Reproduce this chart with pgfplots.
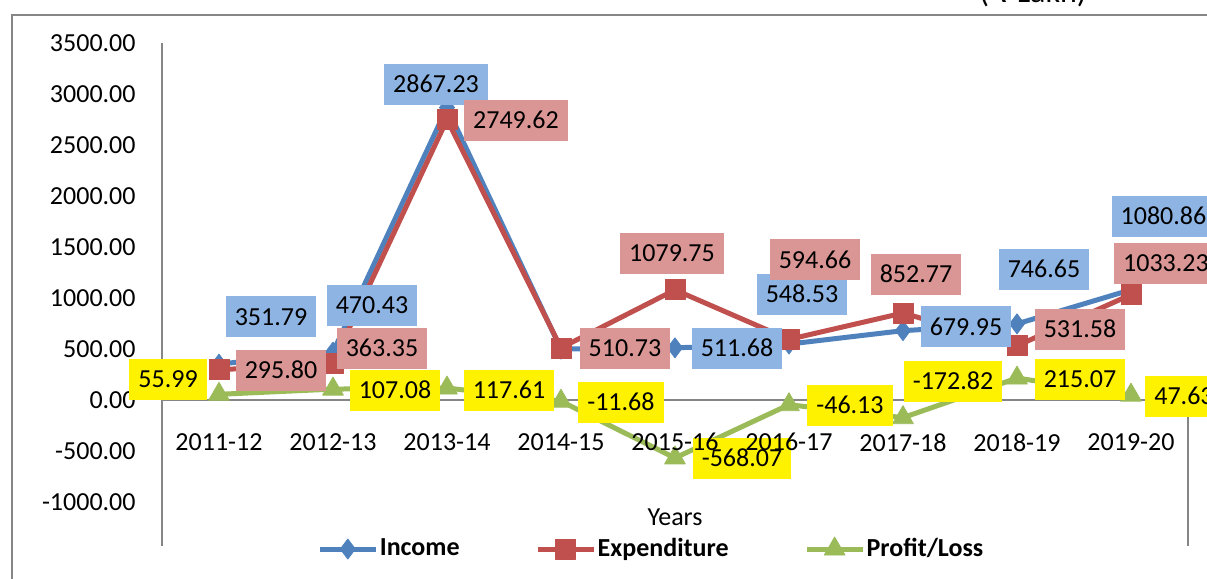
\documentclass[border=0pt]{standalone}
\usepackage{fontspec}
\setmainfont{Carlito}
\newfontfamily\dejavu{DejaVu Sans}
\usepackage{pgfplots}
\pgfplotsset{compat=1.18}
\definecolor{inc}{HTML}{4F81BD}
\definecolor{exp}{HTML}{C0504D}
\definecolor{pl}{HTML}{9BBB59}
\definecolor{incl}{HTML}{8EB4E3}
\definecolor{expl}{HTML}{D99694}
\definecolor{axgray}{HTML}{868686}
\pgfplotsset{base/.style={
 at={(81pt,16.5pt)}, anchor=south west,
 scale only axis, width=513pt, height=251.5pt,
 xmin=-0.5, xmax=8.5, ymin=-1431, ymax=3500,
 clip=false,
 hide obscured x ticks=false, hide obscured y ticks=false,
 major tick length=0pt, tick style={draw=none}}}
\begin{document}
\fontsize{13}{15.6}\selectfont
\begin{tikzpicture}
\draw[axgray, line width=0.8pt] (6pt,-20pt) -- (6pt,282pt) -- (640pt,282pt);
\node[anchor=base east, inner sep=0pt, font=\fontsize{16}{19}\selectfont] at (543.5pt,288pt) {({\dejavu ₹} Lakh)};
\begin{axis}[
 base,
 axis x line=middle, axis y line=left,
 axis line style={axgray, line width=0.9pt, -},
 xtick=\empty,
 ytick={-1000,-500,...,3500},
 yticklabel style={anchor=east, inner sep=0pt, xshift=-13pt,
   /pgf/number format/fixed, /pgf/number format/fixed zerofill,
   /pgf/number format/precision=2, /pgf/number format/1000 sep={},
   /pgf/number format/assume math mode=true},
 xlabel={Years},
 xlabel style={at={(axis description cs:0.5,0.0577)}, anchor=center, inner sep=0pt},
 legend columns=3,
 legend style={at={(axis description cs:0.151,-0.006)}, anchor=west, draw=none, fill=none,
   inner sep=0pt, font=\bfseries, nodes={inner sep=0.75pt},
   /tikz/every even column/.append style={column sep=37pt}},
 legend image code/.code={\draw[mark repeat=2, mark phase=2, #1] plot coordinates {(0pt,0pt) (14pt,0pt) (28pt,0pt)};},
]
\addplot[inc, line width=2.5pt, line join=round, mark=diamond*, mark size=5pt,
  mark options={solid, fill=inc, draw=inc, line width=0.4pt}]
  coordinates {(0,351.79) (1,470.43) (2,2867.23) (3,499.05) (4,511.68) (5,548.53) (6,679.95) (7,746.65) (8,1080.86)};
\addlegendentry{Income}
\addplot[exp, line width=2.5pt, line join=round, mark=square*, mark size=5pt,
  mark options={solid, fill=exp, draw=exp, line width=0.4pt}]
  coordinates {(0,295.80) (1,363.35) (2,2749.62) (3,510.73) (4,1079.75) (5,594.66) (6,852.77) (7,531.58) (8,1033.23)};
\addlegendentry{Expenditure}
\addplot[pl, line width=2.5pt, line join=round, mark=triangle*, mark size=6pt,
  mark options={solid, fill=pl, draw=pl, line width=0.4pt}]
  coordinates {(0,55.99) (1,107.08) (2,117.61) (3,-11.68) (4,-568.07) (5,-46.13) (6,-172.82) (7,215.07) (8,47.63)};
\addlegendentry{Profit/Loss}
\draw[axgray, line width=0.9pt] (axis cs:8.5,0) -- (axis cs:8.5,-1431);
% data labels
\addplot[draw=none, mark=none, forget plot, nodes near coords, point meta=explicit symbolic,
  nodes near coords style={anchor=center, fill=incl, text=black, inner xsep=4.5pt, inner ysep=0pt, minimum height=20.5pt}]
  coordinates {(0.456,814) [351.79] (1.342,931) [470.43] (1.904,3098) [2867.23] (4.544,510) [511.68]
   (5.114,1039) [548.53] (6.553,716) [679.95] (7.237,1284) [746.65] (8.285,1804) [1080.86]};
\addplot[draw=none, mark=none, forget plot, nodes near coords, point meta=explicit symbolic,
  nodes near coords style={anchor=center, fill=expl, text=black, inner xsep=4.5pt, inner ysep=0pt, minimum height=20.5pt}]
  coordinates {(0.544,294) [295.80] (1.430,510) [363.35] (2.605,2745) [2749.62] (3.561,510) [510.73]
   (3.974,1441) [1079.75] (5.228,1373) [594.66] (6.114,1235) [852.77] (7.553,696) [531.58] (8.307,1343) [1033.23]};
\addplot[draw=none, mark=none, forget plot, nodes near coords, point meta=explicit symbolic,
  nodes near coords style={anchor=center, fill=yellow, text=black, inner xsep=4.5pt, inner ysep=0pt, minimum height=20.5pt}]
  coordinates {(-0.447,206) [55.99] (1.544,98) [107.08] (2.544,98) [117.61] (3.526,-20) [-11.68]
   (4.588,-569) [-568.07] (5.535,-49) [-46.13] (6.439,186) [-172.82] (7.553,206) [215.07] (8.465,39) [47.63]};
\end{axis}
% overlay axis: category tick labels drawn on top, as in the reference
\begin{axis}[
 base,
 axis x line=middle, axis y line=none,
 x axis line style={draw=none},
 xtick={0,...,8},
 xticklabels={2011-12,2012-13,2013-14,2014-15,2015-16,2016-17,2017-18,2018-19,2019-20},
 xticklabel style={anchor=north, inner sep=0pt, yshift=-16.5pt},
]
\end{axis}
\pgfresetboundingbox
\path[use as bounding box] (0,0) rectangle (603.5pt,289.5pt);
\end{tikzpicture}
\end{document}
